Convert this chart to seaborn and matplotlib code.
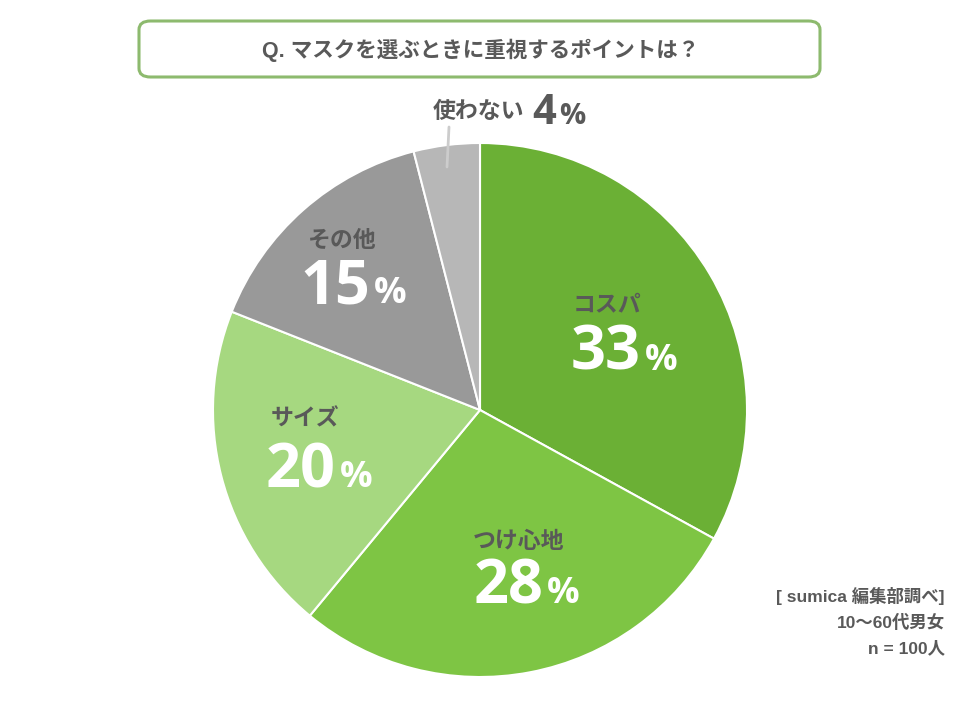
import matplotlib
matplotlib.use("Agg")
import matplotlib.pyplot as plt
import seaborn as sns
from matplotlib.patches import FancyBboxPatch

sns.set_theme(style="white")
plt.rcParams['font.family'] = ['Noto Sans CJK JP', 'DejaVu Sans']

categories = ["コスパ", "つけ心地", "サイズ", "その他", "使わない"]
values = [33, 28, 20, 15, 4]
colors = ["#6BB035", "#7EC544", "#A6D880", "#999999", "#B7B7B7"]
title = "Q. マスクを選ぶときに重視するポイントは？"
source_lines = ["[ sumica 編集部調べ]", "10〜60代男女", "n = 100人"]

W, H = 960, 720
fig = plt.figure(figsize=(W / 100, H / 100), dpi=100)
fig.patch.set_facecolor("white")

def fx(x):
    return x / W

def fy(y):
    return 1 - y / H

latin_cjk = ["Liberation Sans", "Noto Sans CJK JP", "DejaVu Sans"]
num_font = ["Open Sans", "DejaVu Sans"]

# pie
cx, cy, r = 480, 410, 267
ax = fig.add_axes([fx(cx - r), fy(cy + r), 2 * r / W, 2 * r / H])
ax.pie(values, colors=colors, startangle=90, counterclock=False, radius=1,
       wedgeprops=dict(edgecolor="white", linewidth=1.5))
ax.set_xlim(-1, 1)
ax.set_ylim(-1, 1)
ax.set_aspect("equal")
ax.axis("off")

# title box
box = FancyBboxPatch((fx(139), fy(77)), fx(820) - fx(139), fy(21) - fy(77),
                     boxstyle="round,pad=0,rounding_size=0.012",
                     transform=fig.transFigure, facecolor="white",
                     edgecolor="#8DBA6E", linewidth=2.2)
fig.patches.append(box)
fig.text(fx(481), fy(50), title, ha="center", va="center", fontsize=15.5,
         fontweight="bold", color="#595959", family=latin_cjk)

dark = "#595959"
label_pos = [(607, 305), (519, 541), (305, 419), (342, 240)]
num_pos = [(641, 370), (543, 603), (336, 487), (370, 303)]
for i in range(4):
    lx, ly = label_pos[i]
    fig.text(fx(lx), fy(ly), categories[i], ha="center", va="center",
             fontsize=16.5, fontweight="bold", color=dark)
    nx, ny = num_pos[i]
    fig.text(fx(nx), fy(ny), str(values[i]), ha="right", va="baseline",
             fontsize=44, fontweight="bold", color="white", family=num_font)
    fig.text(fx(nx + 4), fy(ny), "%", ha="left", va="baseline",
             fontsize=26, fontweight="bold", color="white", family=num_font)

# small slice label
fig.text(fx(478), fy(111), categories[4], ha="center", va="center",
         fontsize=16.5, fontweight="bold", color=dark)
fig.text(fx(556), fy(124), str(values[4]), ha="right", va="baseline",
         fontsize=30, fontweight="bold", color=dark, family=num_font)
fig.text(fx(559), fy(124), "%", ha="left", va="baseline",
         fontsize=21, fontweight="bold", color=dark, family=num_font)
fig.add_artist(plt.Line2D([fx(449), fx(447)], [fy(127), fy(167)],
                          transform=fig.transFigure, color="#CCCCCC", linewidth=2))

# source
for k, line in enumerate(source_lines):
    fig.text(fx(945), fy(596 + 26 * k), line, ha="right", va="center",
             fontsize=12.5, fontweight="bold", color=dark, family=latin_cjk)

fig.savefig("out.png", dpi=100, facecolor="white")
